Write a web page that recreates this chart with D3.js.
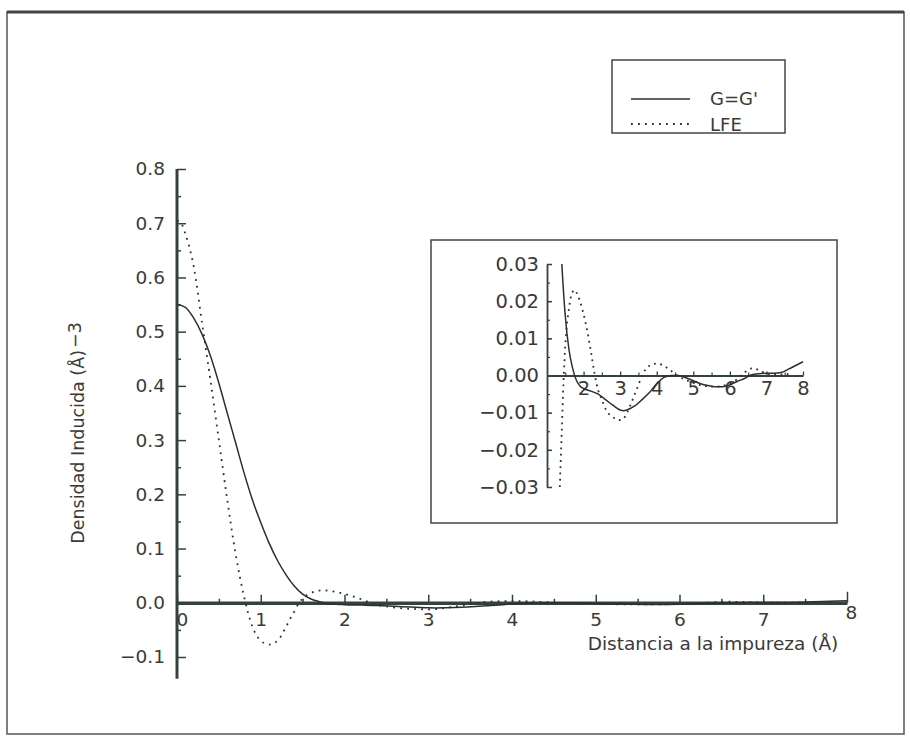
<!DOCTYPE html>
<html>
<head>
<meta charset="utf-8">
<script src="https://cdn.jsdelivr.net/npm/d3@7"></script>
<style>
  body { margin: 0; background: #fff; }
  svg { display: block; }
  text { font-family: "DejaVu Sans", sans-serif; fill: #3a3a3a; }
</style>
</head>
<body>
<svg id="chart"></svg>
<script>
// G=G' curve (solid)
const gDist = [0, 0.1, 0.2, 0.3, 0.4, 0.5, 0.6, 0.7, 0.8, 0.9, 1.0, 1.1, 1.2, 1.3, 1.4, 1.5, 1.6, 1.7, 1.8, 1.9,
  2.0, 2.2, 2.4, 2.6, 2.8, 3.0, 3.1, 3.2, 3.4, 3.6, 3.8, 4.0, 4.2, 4.4, 4.6, 4.8, 5.0, 5.2, 5.4, 5.6,
  5.8, 6.0, 6.2, 6.4, 6.6, 6.8, 7.0, 7.2, 7.4, 7.6, 7.8, 8.0];
const gDens = [0.55, 0.545, 0.525, 0.495, 0.455, 0.405, 0.35, 0.295, 0.24, 0.19, 0.148, 0.11, 0.078, 0.052, 0.031,
  0.016, 0.007, 0.002, -0.0012, -0.0028, -0.0035, -0.0042, -0.005, -0.0065, -0.008, -0.0093, -0.0095, -0.0092,
  -0.0082, -0.0065, -0.0046, -0.0022, -0.0005, 0, 0, -0.0006, -0.0014, -0.0022, -0.0027, -0.003, -0.003, -0.0025,
  -0.0016, -0.0008, 0.0002, 0.0005, 0.0006, 0.0006, 0.0008, 0.0017, 0.0027, 0.0037];

// LFE curve (dotted)
const lfeDist = [0, 0.05, 0.1, 0.2, 0.3, 0.4, 0.5, 0.6, 0.7, 0.8, 0.9, 1.0, 1.1, 1.2, 1.3, 1.35, 1.4, 1.45, 1.5,
  1.6, 1.7, 1.76, 1.8, 1.9, 2.0, 2.1, 2.2, 2.3, 2.4, 2.5, 2.6, 2.8, 3.0, 3.1, 3.2, 3.3, 3.4, 3.5, 3.6, 3.7,
  3.8, 4.0, 4.2, 4.4, 4.6, 4.8, 5.0, 5.3, 5.6, 5.9, 6.2, 6.4, 6.6, 6.8, 7.0, 7.3, 7.6];
const lfeDens = [0.705, 0.70, 0.68, 0.62, 0.515, 0.41, 0.30, 0.19, 0.09, 0.012, -0.044, -0.07, -0.077, -0.07,
  -0.045, -0.03, -0.016, -0.002, 0.008, 0.018, 0.0225, 0.023, 0.0225, 0.02, 0.0165, 0.012, 0.0065, 0.0005,
  -0.004, -0.0065, -0.009, -0.0112, -0.012, -0.0115, -0.0098, -0.0075, -0.005, -0.0025, 0, 0.0017, 0.0026,
  0.0032, 0.0026, 0.0012, -0.0003, -0.0012, -0.002, -0.0028, -0.003, -0.0025, -0.001, 0.0008, 0.0019, 0.0015,
  0.0005, 0.0003, 0.0004];

const mainXTicks = [0, 1, 2, 3, 4, 5, 6, 7, 8];
const mainYTicks = [-0.1, 0, 0.1, 0.2, 0.3, 0.4, 0.5, 0.6, 0.7, 0.8];
const insetXTicks = [2, 3, 4, 5, 6, 7, 8];
const insetYTicks = [-0.03, -0.02, -0.01, 0, 0.01, 0.02, 0.03];

const width = 910, height = 740;
const ink = '#2e2e2e', axisInk = '#34423f';

const svg = d3.select('#chart')
  .attr('width', width)
  .attr('height', height)
  .attr('viewBox', `0 0 ${width} ${height}`);

// outer frame
svg.append('rect')
  .attr('x', 7).attr('y', 12).attr('width', 897).attr('height', 722)
  .attr('fill', 'none').attr('stroke', '#555').attr('stroke-width', 1.5);
svg.append('line')
  .attr('x1', 7).attr('x2', 904).attr('y1', 12).attr('y2', 12)
  .attr('stroke', '#444').attr('stroke-width', 3);

const gSeries = gDist.map((d, i) => [d, gDens[i]]);
const lfeSeries = lfeDist.map((d, i) => [d, lfeDens[i]]);

// ---- main plot ----
const x = d3.scaleLinear().domain([0, 8]).range([177, 847]);
const y = d3.scaleLinear().domain([-0.1, 0.8]).range([657, 169]);

const main = svg.append('g');

// y axis
main.append('g')
  .attr('transform', `translate(${x(0)},0)`)
  .call(d3.axisLeft(y).tickValues(d3.range(-0.05, 0.8, 0.1)).tickSize(-4).tickSizeOuter(0).tickFormat(''))
  .call(g => g.select('.domain').remove())
  .call(g => g.selectAll('line').attr('stroke', axisInk).attr('stroke-width', 1.5));
main.append('g')
  .attr('transform', `translate(${x(0)},0)`)
  .call(d3.axisLeft(y).tickValues(mainYTicks).tickSize(-9).tickSizeOuter(0).tickPadding(12))
  .call(g => g.select('.domain').remove())
  .call(g => g.selectAll('line').attr('stroke', axisInk).attr('stroke-width', 1.5))
  .call(g => g.selectAll('text').attr('font-size', 18.5).attr('fill', '#3a3a3a')
    .text(d => d < 0 ? '\u2212' + Math.abs(d).toFixed(1) : d.toFixed(1)));
main.append('line')
  .attr('x1', x(0)).attr('x2', x(0)).attr('y1', y(0.8)).attr('y2', y(-0.14))
  .attr('stroke', axisInk).attr('stroke-width', 3);

// x axis
main.append('g')
  .attr('transform', `translate(0,${y(0)})`)
  .call(d3.axisBottom(x).tickValues(d3.range(0.5, 8, 1)).tickSize(-4).tickSizeOuter(0).tickFormat(''))
  .call(g => g.select('.domain').remove())
  .call(g => g.selectAll('line').attr('stroke', axisInk).attr('stroke-width', 1.5));
main.append('g')
  .attr('transform', `translate(0,${y(0)})`)
  .call(d3.axisBottom(x).tickValues(mainXTicks).tickSize(-8).tickSizeOuter(0).tickPadding(10))
  .call(g => g.select('.domain').attr('stroke', axisInk).attr('stroke-width', 3.5))
  .call(g => g.selectAll('line').attr('stroke', axisInk).attr('stroke-width', 1.5))
  .call(g => g.selectAll('text').attr('font-size', 18.5).attr('fill', '#3a3a3a'))
  .call(g => g.selectAll('.tick').filter(d => d === 0).select('text').attr('x', 5))
  .call(g => g.selectAll('.tick').filter(d => d === 8).select('line').attr('y2', -11))
  .call(g => g.selectAll('.tick').filter(d => d === 8).select('text').attr('y', 3).attr('x', 4));

const lineMain = d3.line()
  .x(d => x(d[0]))
  .y(d => y(d[1]))
  .curve(d3.curveMonotoneX);

main.append('path')
  .attr('d', lineMain(gSeries))
  .attr('fill', 'none').attr('stroke', ink).attr('stroke-width', 1.5);
main.append('path')
  .attr('d', lineMain(lfeSeries))
  .attr('fill', 'none').attr('stroke', ink).attr('stroke-width', 1.8)
  .attr('stroke-dasharray', '1.8 5.2');

// axis titles
svg.append('text')
  .attr('x', 713).attr('y', 650)
  .attr('text-anchor', 'middle')
  .attr('font-size', 18.5)
  .text('Distancia a la impureza (Å)');

const ylab = svg.append('text')
  .attr('transform', `translate(84,433) rotate(-90)`)
  .attr('text-anchor', 'middle')
  .attr('font-size', 17.5);
ylab.append('tspan').text('Densidad Inducida (Å)');
ylab.append('tspan').attr('dy', -3).attr('dx', 2).text('\u22123');

// ---- legend ----
const legend = svg.append('g');
legend.append('rect')
  .attr('x', 612).attr('y', 60).attr('width', 173).attr('height', 73)
  .attr('fill', '#fff').attr('stroke', '#444').attr('stroke-width', 1.5);
legend.append('line')
  .attr('x1', 631).attr('x2', 690).attr('y1', 99).attr('y2', 99)
  .attr('stroke', ink).attr('stroke-width', 1.5);
legend.append('line')
  .attr('x1', 631).attr('x2', 690).attr('y1', 124).attr('y2', 124)
  .attr('stroke', ink).attr('stroke-width', 1.8).attr('stroke-dasharray', '1.8 5.2');
legend.append('text').attr('x', 710).attr('y', 105).attr('font-size', 18).text("G=G'");
legend.append('text').attr('x', 710).attr('y', 131).attr('font-size', 18).text('LFE');

// ---- inset ----
const inset = svg.append('g');
inset.append('rect')
  .attr('x', 431).attr('y', 240).attr('width', 406).attr('height', 283)
  .attr('fill', '#fff').attr('stroke', '#444').attr('stroke-width', 1.5);

const xi = d3.scaleLinear().domain([1, 8]).range([547, 803]);
const yi = d3.scaleLinear().domain([-0.03, 0.03]).range([487, 264]);

inset.append('clipPath').attr('id', 'insetClip')
  .append('rect')
  .attr('x', xi(1)).attr('y', yi(0.03))
  .attr('width', xi(8.2) - xi(1)).attr('height', yi(-0.03) - yi(0.03));

inset.append('g')
  .attr('transform', `translate(${xi(1)},0)`)
  .call(d3.axisLeft(yi).tickValues(d3.range(-0.025, 0.03, 0.005)).tickSize(-3).tickSizeOuter(0).tickFormat(''))
  .call(g => g.select('.domain').remove())
  .call(g => g.selectAll('line').attr('stroke', axisInk).attr('stroke-width', 1.2));
inset.append('g')
  .attr('transform', `translate(${xi(1)},0)`)
  .call(d3.axisLeft(yi).tickValues(insetYTicks).tickSize(-5).tickSizeOuter(0).tickPadding(8))
  .call(g => g.select('.domain').attr('stroke', axisInk).attr('stroke-width', 1.8))
  .call(g => g.selectAll('line').attr('stroke', axisInk).attr('stroke-width', 1.5))
  .call(g => g.selectAll('text').attr('font-size', 19.5).attr('fill', '#3a3a3a')
    .text(d => (d < -1e-9 ? '\u2212' : '') + Math.abs(d).toFixed(2)));

inset.append('g')
  .attr('transform', `translate(0,${yi(0)})`)
  .call(d3.axisBottom(xi).tickValues(d3.range(1.5, 8, 0.5).filter(v => v % 1 !== 0)).tickSize(-3).tickSizeOuter(0).tickFormat(''))
  .call(g => g.select('.domain').remove())
  .call(g => g.selectAll('line').attr('stroke', axisInk).attr('stroke-width', 1.2));
inset.append('g')
  .attr('transform', `translate(0,${yi(0)})`)
  .call(d3.axisBottom(xi).tickValues(insetXTicks).tickSize(-4).tickSizeOuter(0).tickPadding(6).tickFormat(d3.format('d')))
  .call(g => g.select('.domain').attr('stroke', axisInk).attr('stroke-width', 1.8))
  .call(g => g.selectAll('line').attr('stroke', axisInk).attr('stroke-width', 1.3))
  .call(g => g.selectAll('text').attr('font-size', 19.5).attr('fill', '#3a3a3a'));

const lineInset = d3.line()
  .x(d => xi(d[0]))
  .y(d => yi(d[1]))
  .curve(d3.curveMonotoneX);

const insetCurves = inset.append('g').attr('clip-path', 'url(#insetClip)');
insetCurves.append('path')
  .attr('d', lineInset(gSeries.filter(d => d[0] >= 1)))
  .attr('fill', 'none').attr('stroke', ink).attr('stroke-width', 1.5);
insetCurves.append('path')
  .attr('d', lineInset(lfeSeries.filter(d => d[0] >= 1)))
  .attr('fill', 'none').attr('stroke', ink).attr('stroke-width', 1.8)
  .attr('stroke-dasharray', '1.8 4.5');
</script>
</body>
</html>
